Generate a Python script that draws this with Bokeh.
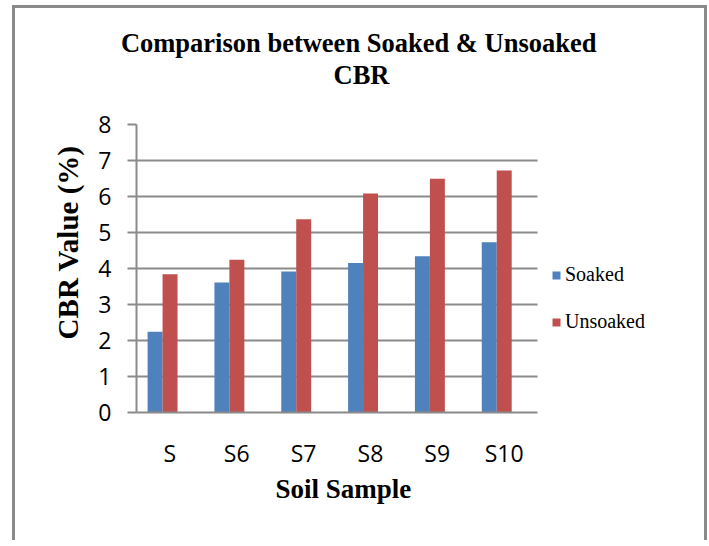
from bokeh.plotting import figure
from bokeh.models import (FixedTicker, Range1d, Legend, LegendItem, Title,
                          ColumnDataSource, BoxAnnotation)
from bokeh.embed import file_html
from bokeh.resources import INLINE
import numpy as np

samples = ["S", "S6", "S7", "S8", "S9", "S10"]
soaked = [2.24, 3.61, 3.92, 4.15, 4.34, 4.73]
unsoaked = [3.84, 4.24, 5.37, 6.08, 6.49, 6.72]
y_ticks = [0, 1, 2, 3, 4, 5, 6, 7, 8]

BLUE = "#4F81BD"
RED = "#C0504D"
GRID = "#8a8a8a"

W, H = 689, 532
LEFT, TOP = 121, 116
PLOT_W, PLOT_H = 401, 288

idx = np.arange(len(samples))
bar_w = 0.224
group_shift = -0.11
x0, x1 = -0.5, len(samples) - 0.5
px_per_unit = PLOT_W / (x1 - x0)
x_end = x0 + (W - LEFT) / px_per_unit

src = ColumnDataSource(dict(
    xs=idx + group_shift - bar_w / 2,
    xu=idx + group_shift + bar_w / 2,
    soaked=soaked,
    unsoaked=unsoaked,
))

p = figure(width=W, height=H, output_backend="svg", toolbar_location=None,
           x_range=Range1d(x0, x_end), y_range=Range1d(0, 8),
           min_border_left=LEFT, min_border_right=0, min_border_top=TOP,
           min_border_bottom=H - TOP - PLOT_H)
sh = "#8a8a8a"
p.styles = {"margin-left": "15px", "margin-top": "8px",
            "box-shadow": f"-3px 0 0 0 {sh}, 3px 0 0 0 {sh}, 0 -3px 0 0 {sh}, "
                          f"-3px -3px 0 0 {sh}, 3px -3px 0 0 {sh}"}
p.outline_line_color = None

r1 = p.vbar(x="xs", top="soaked", width=bar_w, source=src, fill_color=BLUE, line_color=None)
r2 = p.vbar(x="xu", top="unsoaked", width=bar_w, source=src, fill_color=RED, line_color=None)

# grid
p.xgrid.grid_line_color = None
p.ygrid.grid_line_color = GRID
p.ygrid.grid_line_width = 2
p.ygrid.ticker = FixedTicker(ticks=y_ticks)

# blank area right of the plot (legend area)
p.add_layout(BoxAnnotation(left=x1, fill_color="white", fill_alpha=1,
                           line_color=None, level="underlay"))

# y axis
p.yaxis.ticker = FixedTicker(ticks=y_ticks)
p.yaxis.axis_line_color = GRID
p.yaxis.axis_line_width = 2
p.yaxis.major_tick_line_color = GRID
p.yaxis.major_tick_line_width = 2
p.yaxis.major_tick_out = 9
p.yaxis.major_tick_in = 0
p.yaxis.minor_tick_line_color = None
p.yaxis.major_label_text_font = "Open Sans"
p.yaxis.major_label_text_font_size = "23px"
p.yaxis.major_label_text_color = "#000000"
p.yaxis.major_label_standoff = 16

# x axis
p.xaxis.ticker = FixedTicker(ticks=list(idx))
p.xaxis.bounds = (x0, x1)
p.xaxis.major_label_overrides = {int(i): s for i, s in zip(idx, samples)}
p.xaxis.axis_line_color = GRID
p.xaxis.axis_line_width = 2
p.xaxis.major_tick_line_color = None
p.xaxis.major_tick_out = 0
p.xaxis.major_tick_in = 0
p.xaxis.minor_tick_line_color = None
p.xaxis.major_label_text_font = "Open Sans"
p.xaxis.major_label_text_font_size = "23px"
p.xaxis.major_label_text_color = "#000000"
p.xaxis.major_label_standoff = 24

title_font = dict(text_font="Liberation Serif", text_font_style="bold",
                  text_color="#000000")

# x axis title
p.add_layout(Title(text="Soil Sample", align="left", offset=139, standoff=0,
                   text_font_size="27px", **title_font), "below")

# y axis title
p.add_layout(Title(text="CBR Value (%)", align="right", offset=21, standoff=24,
                   text_font_size="29px", **title_font), "left")

# legend
legend = Legend(items=[LegendItem(label="Soaked", renderers=[r1]),
                       LegendItem(label="Unsoaked", renderers=[r2])],
                location=(415, 79), orientation="vertical",
                padding=0, margin=0, spacing=24,
                glyph_width=10, glyph_height=10, label_height=20,
                label_standoff=4,
                label_text_font="Liberation Serif", label_text_font_size="20px",
                label_text_color="#000000",
                background_fill_alpha=0, border_line_color=None)
p.add_layout(legend)

# chart title: spacer, then the two lines (first added sits nearest the plot)
p.add_layout(Title(text=" ", standoff=32, text_font_size="1px", **title_font), "above")
p.add_layout(Title(text="CBR", align="left", offset=197, standoff=0,
                   text_font_size="26.5px", **title_font), "above")
p.add_layout(Title(text="Comparison between Soaked & Unsoaked", align="left",
                   offset=-15.6, standoff=0,
                   text_font_size="26.5px", **title_font), "above")

open("out.html", "w").write(file_html(p, INLINE))
